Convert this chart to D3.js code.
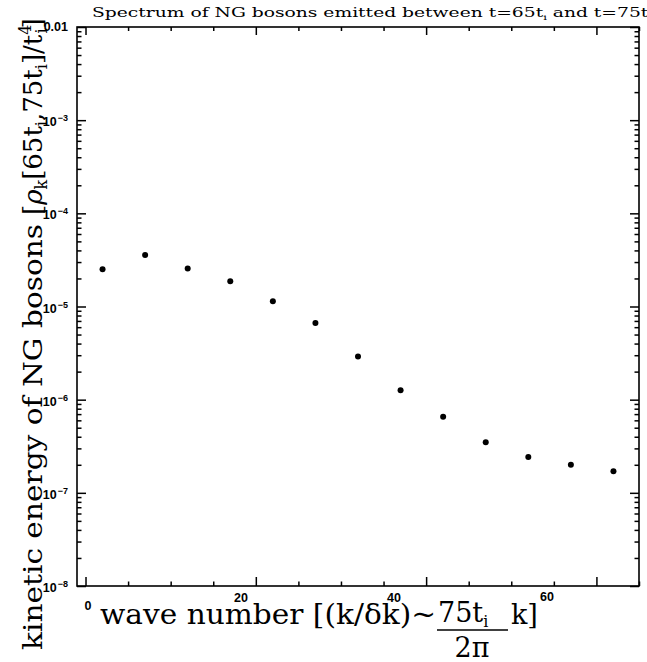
<!DOCTYPE html>
<html>
<head>
<meta charset="utf-8">
<script src="https://cdn.jsdelivr.net/npm/d3@7"></script>
<style>
	body { margin: 0; background: #fff; }
	svg text { fill: #000; }
</style>
</head>
<body>
<svg id="graph"></svg>
<script>
// wave number bins (k / delta k)
var waveNumber = [2, 7, 12, 17, 22, 27, 32, 37, 42, 47, 52, 57, 62];
// kinetic energy rho_k[65t_i,75t_i]/t_i^4
var energy = [2.51e-5, 3.58e-5, 2.55e-5, 1.87e-5, 1.14e-5, 6.67e-6, 2.90e-6, 1.26e-6, 6.54e-7, 3.50e-7, 2.42e-7, 2.00e-7, 1.71e-7];
var xTickLabels = [0, 20, 40, 60];
var yTickLabels = [1e-2, 1e-3, 1e-4, 1e-5, 1e-6, 1e-7, 1e-8];

(function() {
	var width = 647, height = 662;
	var svg = d3.select("#graph").attr("width", width).attr("height", height);

	var mLeft = 77, mRight = 639, mTop = 27, mBottom = 586;
	var x = d3.scaleLinear().domain([-1, 65]).range([mLeft, mRight]);
	var y = d3.scaleLog().domain([1e-8, 1e-2]).range([mBottom, mTop]);
	// tick labels in the original come out squeezed to the left
	var xLab = d3.scaleLinear().domain([0, 60]).range([88, 547]);

	var tickFont = "'Liberation Sans', Arial, sans-serif";
	var serif = "'DejaVu Serif', serif";

	// minor y ticks 2..9 in every decade
	var yMinor = [];
	for (var e = -8; e < -2; e++) {
		for (var m = 2; m <= 9; m++) yMinor.push(m * Math.pow(10, e));
	}
	var xMinor = d3.range(0, 66, 5).filter(function(v) { return v % 20 != 0; });

	function drawAxis(axis, tr) {
		var g = svg.append("g").attr("transform", tr).call(axis);
		g.select(".domain").remove();
		g.selectAll("line").attr("stroke", "#000").attr("stroke-width", 1.5);
		g.selectAll("text").remove();
		return g;
	}

	drawAxis(d3.axisBottom(x).tickValues(xTickLabels).tickSize(-9), "translate(0," + mBottom + ")");
	drawAxis(d3.axisBottom(x).tickValues(xMinor).tickSize(-4.5), "translate(0," + mBottom + ")");
	drawAxis(d3.axisTop(x).tickValues(xTickLabels).tickSize(-8), "translate(0," + mTop + ")");
	drawAxis(d3.axisTop(x).tickValues(xMinor).tickSize(-4), "translate(0," + mTop + ")");
	drawAxis(d3.axisLeft(y).tickValues(yTickLabels).tickSize(-9), "translate(" + mLeft + ",0)");
	drawAxis(d3.axisLeft(y).tickValues(yMinor).tickSize(-4.5), "translate(" + mLeft + ",0)");
	drawAxis(d3.axisRight(y).tickValues(yTickLabels).tickSize(-9), "translate(" + mRight + ",0)");
	drawAxis(d3.axisRight(y).tickValues(yMinor).tickSize(-4.5), "translate(" + mRight + ",0)");

	svg.append("rect").attr("x", mLeft).attr("y", mTop)
		.attr("width", mRight - mLeft).attr("height", mBottom - mTop)
		.attr("fill", "none").attr("stroke", "#000").attr("stroke-width", 1.6);

	// x tick labels
	var xLabY = { "0": 610, "20": 602, "40": 602, "60": 601 };
	svg.append("g").selectAll("text").data(xTickLabels).enter().append("text")
		.attr("x", function(d) { return xLab(d); })
		.attr("y", function(d) { return xLabY[d]; })
		.attr("text-anchor", "middle")
		.style("font-family", tickFont).style("font-weight", "bold").style("font-size", "12.5px")
		.text(function(d) { return d; });

	// y tick labels
	var yl = svg.append("g").selectAll("text").data(yTickLabels).enter().append("text")
		.attr("x", 68)
		.attr("y", function(d) { return y(d) + 6; })
		.attr("text-anchor", "end")
		.style("font-family", tickFont).style("font-weight", "bold").style("font-size", "12.5px");
	yl.each(function(d) {
		var t = d3.select(this);
		if (d == 1e-2) { t.attr("y", y(d) + 4).text("0.01"); return; }
		t.append("tspan").text("10");
		t.append("tspan").attr("dx", 1).attr("dy", -5).style("font-size", "9px").text("\u2212" + (-Math.round(Math.log10(d))));
	});

	// points
	svg.append("g").selectAll("circle").data(waveNumber).enter().append("circle")
		.attr("cx", function(d) { return x(d); })
		.attr("cy", function(d, i) { return y(energy[i]); })
		.attr("r", 3)
		.attr("fill", "#000");

	// title
	svg.append("text").attr("x", 92).attr("y", 17)
		.attr("textLength", 560).attr("lengthAdjust", "spacingAndGlyphs")
		.style("font-family", serif).style("font-size", "13px")
		.call(function(t) {
			t.append("tspan").text("Spectrum of NG bosons emitted between t=65t");
			t.append("tspan").attr("dy", 3).style("font-size", "8px").text("i");
			t.append("tspan").attr("dy", -3).text(" and t=75t");
			t.append("tspan").attr("dy", 3).style("font-size", "8px").text("i");
		});

	// y axis label, in two pieces so each can be fitted to the reference length
	svg.append("text")
		.attr("transform", "translate(42,650) rotate(-90)")
		.attr("textLength", 426).attr("lengthAdjust", "spacingAndGlyphs")
		.style("font-family", serif).style("font-size", "26px")
		.text("kinetic energy of NG bosons");
	var ylab = svg.append("text")
		.attr("transform", "translate(42,215) rotate(-90)")
		.style("font-family", serif).style("font-size", "26px");
	ylab.append("tspan").text("[");
	ylab.append("tspan").style("font-style", "italic").text("\u03c1");
	ylab.append("tspan").attr("dy", 5).style("font-size", "16px").text("k");
	ylab.append("tspan").attr("dy", -5).text("[65t");
	ylab.append("tspan").attr("dy", 5).style("font-size", "16px").text("i");
	ylab.append("tspan").attr("dy", -5).text(",75t");
	ylab.append("tspan").attr("dy", 5).style("font-size", "16px").text("i");
	ylab.append("tspan").attr("dy", -5).text("]/t");
	ylab.append("tspan").attr("dy", -11).style("font-size", "16px").text("4");
	ylab.append("tspan").attr("dx", -9).attr("dy", 16).style("font-size", "16px").text("i");
	ylab.append("tspan").attr("dy", -5).text("]");

	// x axis label
	var xl = svg.append("g").style("font-family", serif);
	xl.append("text").attr("x", 100).attr("y", 624).style("font-size", "27px")
		.attr("textLength", 336).attr("lengthAdjust", "spacingAndGlyphs")
		.text("wave number [(k/\u03b4k)~");
	var num = xl.append("text").attr("x", 438).attr("y", 622).style("font-size", "27px");
	num.append("tspan").text("75t");
	num.append("tspan").attr("dy", 5).style("font-size", "16px").text("i");
	xl.append("line").attr("x1", 437).attr("x2", 508).attr("y1", 630).attr("y2", 630)
		.attr("stroke", "#000").attr("stroke-width", 1.4);
	xl.append("text").attr("x", 472).attr("y", 657).attr("text-anchor", "middle")
		.style("font-size", "27px").text("2\u03c0");
	xl.append("text").attr("x", 511).attr("y", 624).style("font-size", "27px").text("k]");
})();
</script>
</body>
</html>
